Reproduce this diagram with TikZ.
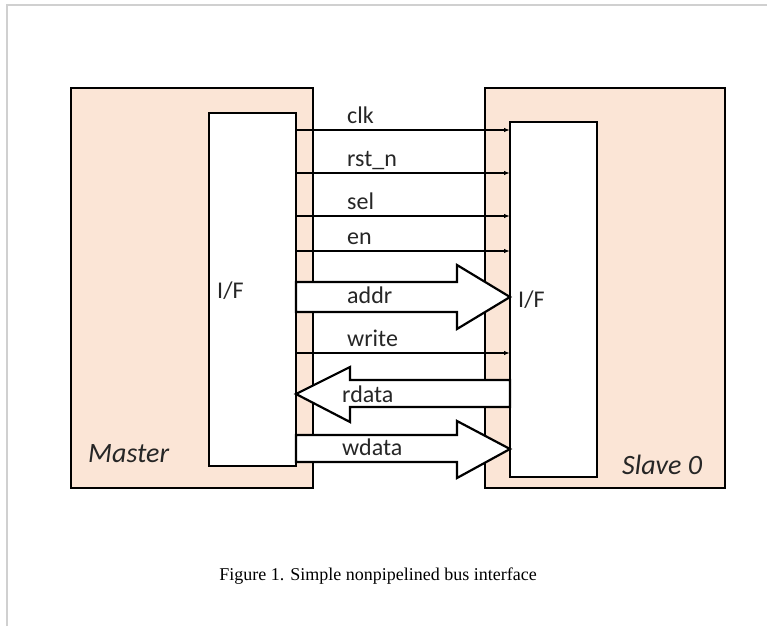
\documentclass[tikz,border=0pt]{standalone}
\usepackage{fontspec}
\setmainfont{Carlito}
\newfontfamily\capfont{Liberation Serif}
\usetikzlibrary{positioning,arrows.meta,calc}
\definecolor{peach}{HTML}{FBE5D6}
\definecolor{framegray}{HTML}{D0D0D0}
\tikzset{
  unit/.style   ={draw, rectangle, fill=peach, line width=2pt, outer sep=0pt, inner sep=0pt},
  ifblk/.style  ={draw, rectangle, fill=white, line width=2pt, outer sep=0pt, inner sep=0pt},
  sig/.style    ={-{Latex[length=6pt,width=4.5pt]}, line width=1.2pt},
  bus/.style    ={draw, fill=white, line width=2.2pt, line join=miter},
  lbl/.style    ={font=\fontsize{24}{28}\selectfont, inner sep=0pt, text=black!85},
  uname/.style  ={font=\fontsize{28}{32}\selectfont\itshape, inner sep=0pt, text=black!85},
}

\begin{document}
\begin{tikzpicture}[x=1pt, y=-1pt]
  \useasboundingbox (0,0) rectangle (767,626);
  \draw[framegray, line width=2pt] (7,626) -- (7,5) -- (767,5);

  % units and their interfaces
  \node[unit, minimum width=242, minimum height=400] (master) at (192,288) {};
  \node[unit, minimum width=240, minimum height=400] (slave)  at (605,288) {};
  \node[ifblk, minimum width=87, minimum height=353] (mif) at (252.5,289.5) {};
  \node[ifblk, minimum width=87, minimum height=355] (sif) at (553.5,299.5) {};

  \node[lbl, anchor=base west] (miflbl) at (217,298) {I/F};
  \node[lbl, anchor=base west] (siflbl) at (518,307) {I/F};
  \node[uname, anchor=base west] (mname) at (88,462) {Master};
  \node[uname, anchor=base west] (sname) at (622,474) {Slave 0};

  % single wires
  \foreach \y/\txt [count=\i] in {130/clk, 173/rst\_n, 216/sel, 251/en, 353/write} {
    \coordinate (s\i) at (mif.east |- 0,\y);
    \coordinate (e\i) at (sif.west |- 0,\y);
    \draw[sig] (s\i) -- (e\i);
    \node[lbl, anchor=base west] (w\i) at ($(s\i)+(51,-7)$) {\txt};
  }

  % buses
  \draw[bus] (mif.east |- 0,282) -- (457,282) -- (457,265) -- (sif.west |- 0,297)
    -- (457,329) -- (457,312) -- (mif.east |- 0,312) -- cycle;
  \node[lbl, anchor=base west] (addr) at (347,303) {addr};

  \draw[bus] (sif.west |- 0,380) -- (350,380) -- (350,367) -- (mif.east |- 0,394)
    -- (350,422) -- (350,407) -- (sif.west |- 0,407) -- cycle;
  \node[lbl, anchor=base west] (rdata) at (342,402) {rdata};

  \draw[bus] (mif.east |- 0,435) -- (457,435) -- (457,421) -- (sif.west |- 0,449)
    -- (457,478) -- (457,462) -- (mif.east |- 0,462) -- cycle;
  \node[lbl, anchor=base west] (wdata) at (342,455) {wdata};

  \node[font=\capfont\fontsize{18}{21}\selectfont, inner sep=0pt, anchor=base] (cap) at (378,580)
    {Figure 1. Simple nonpipelined bus interface};
\end{tikzpicture}
\end{document}
